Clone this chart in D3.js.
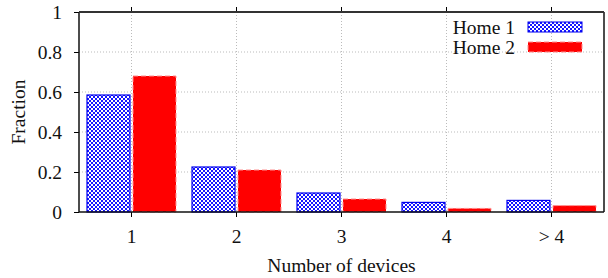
<!DOCTYPE html>
<html>
<head>
<meta charset="utf-8">
<script src="https://cdn.jsdelivr.net/npm/d3@7"></script>
<style>
  body { margin: 0; background: #fff; }
</style>
</head>
<body>
<svg id="chart" width="608" height="278"></svg>
<script>
const categories = ["1", "2", "3", "4", "> 4"];
const home1 = [0.585, 0.225, 0.095, 0.048, 0.058];
const home2 = [0.68, 0.21, 0.065, 0.018, 0.032];
const seriesNames = ["Home 1", "Home 2"];
const yTicks = [0, 0.2, 0.4, 0.6, 0.8, 1];

const FONT = "'Liberation Serif', 'Times New Roman', Times, 'DejaVu Serif', serif";
const FS = "19.5px";

const margin = { top: 12, right: 4, bottom: 66, left: 79 };
const width = 608 - margin.left - margin.right;
const height = 278 - margin.top - margin.bottom;

const svg = d3.select("#chart");

// checker pattern for Home 1
const defs = svg.append("defs");
const pat = defs.append("pattern")
  .attr("id", "checker")
  .attr("width", 4).attr("height", 4)
  .attr("patternUnits", "userSpaceOnUse");
pat.append("rect").attr("width", 4).attr("height", 4).attr("fill", "#1515ff");
pat.append("rect").attr("x", 0).attr("y", 0).attr("width", 2).attr("height", 2).attr("fill", "#fff");
pat.append("rect").attr("x", 2).attr("y", 2).attr("width", 2).attr("height", 2).attr("fill", "#fff");

const g = svg.append("g")
  .attr("transform", "translate(" + margin.left + "," + margin.top + ")");

const x = d3.scaleBand().domain(categories).range([0, width]);
const y = d3.scaleLinear().domain([0, 1]).range([height, 0]);

// grid
g.append("g").selectAll("line")
  .data(yTicks.slice(1, -1))
  .enter().append("line")
  .attr("x1", 0).attr("x2", width)
  .attr("y1", d => y(d)).attr("y2", d => y(d))
  .attr("stroke", "#bbb").attr("stroke-dasharray", "1,2");
g.append("g").selectAll("line")
  .data(categories)
  .enter().append("line")
  .attr("x1", d => x(d) + x.bandwidth() / 2).attr("x2", d => x(d) + x.bandwidth() / 2)
  .attr("y1", 0).attr("y2", height)
  .attr("stroke", "#bbb").attr("stroke-dasharray", "1,2");

const barW = 43;
const gap = 1.5;

g.selectAll("rect.h1")
  .data(home1)
  .enter().append("rect")
  .attr("class", "h1")
  .attr("x", (d, i) => x(categories[i]) + x.bandwidth() / 2 - gap - barW)
  .attr("y", d => y(d))
  .attr("width", barW)
  .attr("height", d => height - y(d))
  .attr("fill", "url(#checker)")
  .attr("stroke", "#0000ee").attr("stroke-width", 1.2);

g.selectAll("rect.h2")
  .data(home2)
  .enter().append("rect")
  .attr("class", "h2")
  .attr("x", (d, i) => x(categories[i]) + x.bandwidth() / 2 + gap)
  .attr("y", d => y(d))
  .attr("width", barW)
  .attr("height", d => height - y(d))
  .attr("fill", "#ff0000")
  .attr("stroke", "#ff9090").attr("stroke-width", 1).attr("stroke-dasharray", "5,3");

// axes
const yAxis = g.append("g")
  .call(d3.axisLeft(y).tickValues(yTicks).tickFormat(d3.format("")).tickSize(5).tickPadding(12));
yAxis.select(".domain").remove();
yAxis.selectAll("text").style("font-size", FS).style("font-family", FONT).attr("fill", "#111");

const xAxis = g.append("g")
  .attr("transform", "translate(0," + height + ")")
  .call(d3.axisBottom(x).tickSize(5).tickPadding(12));
xAxis.select(".domain").remove();
xAxis.selectAll("text").style("font-size", FS).style("font-family", FONT).attr("fill", "#111");

const xTop = g.append("g")
  .call(d3.axisTop(x).tickSize(5).tickFormat(""));
xTop.select(".domain").remove();

// frame
g.append("line").attr("x1", 0).attr("x2", 0).attr("y1", 0).attr("y2", height).attr("stroke", "#111").attr("stroke-width", 1.5);
g.append("line").attr("x1", width).attr("x2", width).attr("y1", 0).attr("y2", height).attr("stroke", "#111").attr("stroke-width", 1.5);
g.append("line").attr("x1", 0).attr("x2", width).attr("y1", 0).attr("y2", 0).attr("stroke", "#333").attr("stroke-width", 2);
g.append("line").attr("x1", 0).attr("x2", width).attr("y1", height).attr("y2", height).attr("stroke", "#111").attr("stroke-width", 1.5);

// labels
svg.append("text")
  .attr("transform", "translate(25," + (margin.top + height / 2) + ") rotate(-90)")
  .attr("text-anchor", "middle")
  .style("font-size", FS).style("font-family", FONT).attr("fill", "#111")
  .text("Fraction");
svg.append("text")
  .attr("x", margin.left + width / 2)
  .attr("y", 272)
  .attr("text-anchor", "middle")
  .style("font-size", FS).style("font-family", FONT).attr("fill", "#111")
  .text("Number of devices");

// legend
const legend = svg.append("g");
seriesNames.forEach((name, i) => {
  const ly = 28 + i * 20;
  legend.append("text")
    .attr("x", 515).attr("y", ly + 6)
    .attr("text-anchor", "end")
    .style("font-size", FS).style("font-family", FONT).attr("fill", "#111")
    .text(name);
  legend.append("rect")
    .attr("x", 528).attr("y", ly - 6)
    .attr("width", 54).attr("height", 10)
    .attr("fill", i === 0 ? "url(#checker)" : "#ff0000")
    .attr("stroke", i === 0 ? "#0000ee" : "#ff9090")
    .attr("stroke-dasharray", i === 0 ? null : "5,3");
});
</script>
</body>
</html>
